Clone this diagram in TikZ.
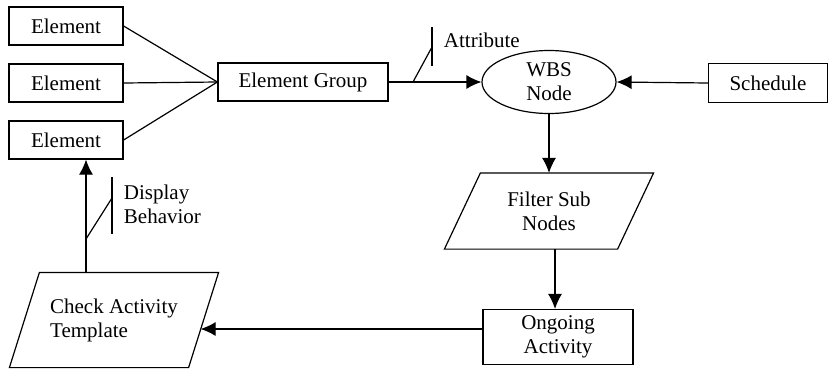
\documentclass[tikz,border=0pt]{standalone}
\usepackage{fontspec}
\setmainfont{Liberation Serif}
\usetikzlibrary{positioning,shapes.geometric,arrows.meta}

\begin{document}
\begin{tikzpicture}[x=1pt, y=-1pt, line width=1.2pt,
    font=\fontsize{21}{24}\selectfont,
    box/.style={draw, rectangle, inner sep=0pt, minimum height=38pt, align=center},
    arr/.style={-{Latex[length=15pt,width=14pt]}}]

      \useasboundingbox (0,0) rectangle (834,370);

      \node [box, minimum width=114pt] at (66,26) (el1) {Element};
      \node [box, minimum width=114pt] at (66,83) (el2) {Element};
      \node [box, minimum width=114pt] at (66,140) (el3) {Element};
      \node [box, minimum width=170pt] at (303,82) (grp) {Element Group};
      \node [draw, ellipse, inner sep=0pt, minimum width=134pt, minimum height=63pt, align=center] at (549,82) (wbs) {WBS\\Node};
      \node [box, minimum width=119pt, minimum height=39pt] at (768,83) (sched) {Schedule};
      \node [inner sep=0pt, align=center, minimum width=172pt, minimum height=75pt] at (549,211) (filt) {Filter Sub\\Nodes};
      \node [box, minimum width=150pt, minimum height=55pt] at (558,337) (ong) {Ongoing\\Activity};
      \node [inner sep=0pt, align=left, minimum width=178pt, minimum height=94pt] at (114,320) (chk) {Check Activity\\Template};

      % slanted sides
      \draw ([xshift=18pt]filt.north west) -- ([xshift=18pt]filt.north east)
        -- ([xshift=-18pt]filt.south east) -- ([xshift=-18pt]filt.south west) -- cycle;
      \draw ([xshift=15pt]chk.north west) -- ([xshift=15pt]chk.north east)
        -- ([xshift=-15pt]chk.south east) -- ([xshift=-15pt]chk.south west) -- cycle;

      \draw (el1.east) -- (grp.west);
      \draw (el2.east) -- (grp.west);
      \draw (el3.east) -- (grp.west);
      \draw [arr] (grp.east) -- (wbs.west);
      \draw [arr] (sched.west) -- (wbs.east);
      \draw [arr] (wbs.south) -- (wbs.south |- filt.north);
      \draw [arr] ([xshift=-3pt]ong.north |- filt.south) -- ([xshift=-3pt]ong.north);
      \coordinate (inp) at ([yshift=8pt]ong.west);
      \coordinate (tip) at ([xshift=-3pt]chk.east);
      \draw [arr] (inp) -- (inp -| tip);
      \draw [arr] ([xshift=20pt]el3.south |- chk.north) -- ([xshift=20pt]el3.south);

      % attribute and behavior marks
      \draw (413,82) -- (432,47);
      \draw (432,27) -- (432,66);
      \node [anchor=west] at (440,40) (attr) {Attribute};

      \draw (86,239) -- (112,198);
      \draw (112,177) -- (112,234);
      \node [anchor=west, align=left] at (120,204) (disp) {Display\\Behavior};
\end{tikzpicture}
\end{document}
